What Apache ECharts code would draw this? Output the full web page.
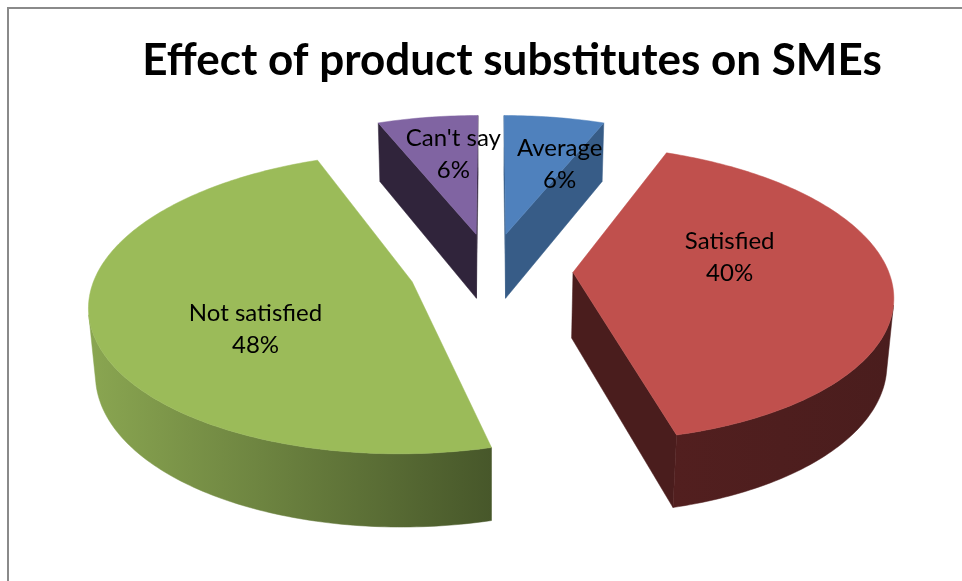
<!DOCTYPE html>
<html><head><meta charset="utf-8">
<script src="https://cdn.jsdelivr.net/npm/echarts@6/dist/echarts.min.js"></script>
<style>html,body{margin:0;padding:0;background:#fff}#c{width:962px;height:581px}</style>
</head><body><div id="c"></div>
<script>
// ---- data ----
const categories = ['Average', 'Satisfied', 'Not satisfied', "Can't say"];
const values = [6, 40, 48, 6];
const titleText = 'Effect of product substitutes on SMEs';

// ---- styles ----
const topColors = ['#4F81BD', '#C0504D', '#9BBB59', '#8064A2'];
const sideColors = [['#3e6694', '#375c87'], ['#521f1f', '#4a1d1d'], ['#8aa651', '#47572a'], ['#36293f', '#30243b']];
const labelNudge = [[28, -8], [-2, -20], [0, 24], [3, -18]];

// ---- 3D projection parameters ----
const CX = 491, CY = 270, D = 6.39, F = 2014, TH = 27.3 * Math.PI / 180, H = 0.238, EXPL = 0.26;
const cosT = Math.cos(TH), sinT = Math.sin(TH);
const cam = [0, D * sinT, -D * cosT];
function proj(X, Y, Z) {
  const up = Y * cosT + Z * sinT;
  const dep = D + Z * cosT - Y * sinT;
  return [CX + F * X / dep, CY - F * up / dep];
}
const total = values.reduce((a, b) => a + b, 0);
const starts = []; { let acc = 0; values.forEach(v => { starts.push(acc); acc += v; }); }
const ang = v => v / total * 2 * Math.PI;

// depth order (far slices drawn first)
const sliceDepth = values.map((v, i) => {
  const am = ang(starts[i]) + ang(v) / 2;
  return EXPL * Math.cos(am);
});
const order = sliceDepth.map(d => sliceDepth.filter(o => o > d).length); // 0 = farthest

function visible(nx, nz, px, pz) {
  return nx * (cam[0] - px) + nz * (cam[2] - pz) > 0;
}

function renderItem(params, api) {
  const i = params.dataIndex;
  const v = api.value(0);
  const a0 = ang(starts[i]), a1 = a0 + ang(v), am = (a0 + a1) / 2;
  const ox = EXPL * Math.sin(am), oz = EXPL * Math.cos(am);
  const P = (a, y) => proj(ox + Math.sin(a), y, oz + Math.cos(a));
  const O = y => proj(ox, y, oz);
  const base = order[i] * 10;
  const children = [];
  const sideFill = new echarts.graphic.LinearGradient(0, 0, 1, 0, [
    { offset: 0, color: sideColors[i][0] }, { offset: 1, color: sideColors[i][1] }]);

  // radial cut faces
  const cutFace = (a, nx, nz) => {
    const mx = ox + Math.sin(a) / 2, mz = oz + Math.cos(a) / 2;
    if (!visible(nx, nz, mx, mz)) return;
    children.push({
      type: 'polygon', z2: base + 1,
      shape: { points: [O(0), P(a, 0), P(a, -H), O(-H)] },
      style: { fill: sideColors[i][1], stroke: sideColors[i][1], lineWidth: 0.5 }
    });
  };
  cutFace(a0, -Math.cos(a0), Math.sin(a0));
  cutFace(a1, Math.cos(a1), -Math.sin(a1));

  // outer curved side
  const steps = Math.max(6, Math.ceil((a1 - a0) / (Math.PI / 180)));
  let run = [];
  const flush = () => {
    if (run.length < 2) { run = []; return; }
    const pts = run.map(a => P(a, 0)).concat(run.slice().reverse().map(a => P(a, -H)));
    children.push({
      type: 'polygon', z2: base + 2,
      shape: { points: pts },
      style: { fill: sideFill, stroke: sideFill, lineWidth: 0.5 }
    });
    run = [];
  };
  for (let k = 0; k < steps; k++) {
    const a = a0 + (a1 - a0) * k / steps, b = a0 + (a1 - a0) * (k + 1) / steps, m = (a + b) / 2;
    const vis = visible(Math.sin(m), Math.cos(m), ox + Math.sin(m), oz + Math.cos(m));
    if (vis) { if (run.length === 0) run.push(a); run.push(b); }
    else flush();
  }
  flush();

  // top face
  const topPts = [O(0)];
  for (let k = 0; k <= steps; k++) topPts.push(P(a0 + (a1 - a0) * k / steps, 0));
  children.push({
    type: 'polygon', z2: base + 5,
    shape: { points: topPts },
    style: { fill: topColors[i], stroke: topColors[i], lineWidth: 0.5 }
  });

  // label
  const lp = proj(ox + 0.5 * Math.sin(am), 0, oz + 0.5 * Math.cos(am));
  children.push({
    type: 'text', z2: 200,
    style: {
      text: categories[i] + '\n' + Math.round(v / total * 100) + '%',
      x: lp[0] + labelNudge[i][0], y: lp[1] + labelNudge[i][1],
      align: 'center', verticalAlign: 'middle',
      fontFamily: 'Lato', fontSize: 24, lineHeight: 32, fill: '#000'
    }
  });
  return { type: 'group', children };
}

const chart = echarts.init(document.getElementById('c'), null, { renderer: 'canvas' });
chart.setOption({
  animation: false,
  backgroundColor: '#fff',
  graphic: [
    { type: 'polyline', shape: { points: [[8, 581], [8, 8], [962, 8]] }, style: { stroke: '#8a8a8a', lineWidth: 2, fill: null }, silent: true },
    { type: 'text', style: { text: titleText, x: 512, y: 61, align: 'center', verticalAlign: 'middle', fontFamily: 'Lato', fontWeight: 'bold', fontSize: 44, fill: '#000' } }
  ],
  series: [{
    type: 'custom',
    coordinateSystem: 'none',
    renderItem: renderItem,
    data: values.map((v, i) => ({ name: categories[i], value: [v] }))
  }]
});
</script>
</body></html>
